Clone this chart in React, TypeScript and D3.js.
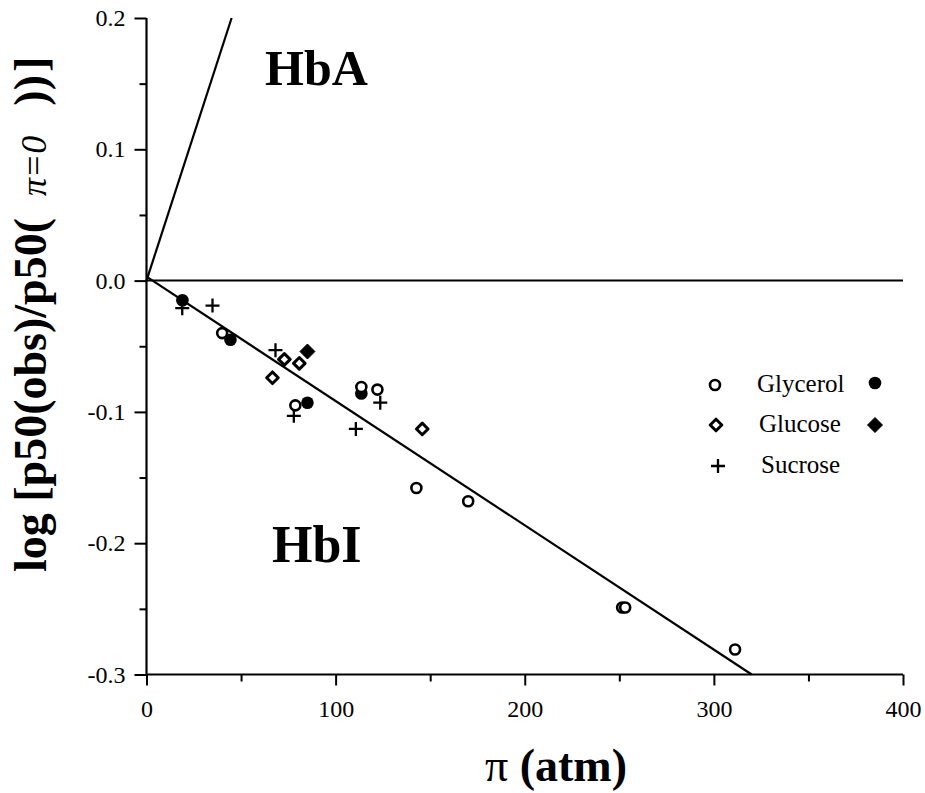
import React, { useEffect, useRef } from "react";
import * as d3 from "d3";

// Osmotic pressure (atm) vs log[p50(obs)/p50(π=0)]
const glycerolOpenX = [40.0, 78.7, 113.6, 122.1, 142.7, 170.1, 251.5, 253.1, 311.2];
const glycerolOpenY = [-0.040, -0.095, -0.081, -0.083, -0.158, -0.168, -0.249, -0.249, -0.281];
const glycerolFilledX = [19.0, 44.4, 85.1, 113.6];
const glycerolFilledY = [-0.015, -0.045, -0.093, -0.086];
const glucoseOpenX = [66.6, 72.9, 80.8, 145.8];
const glucoseOpenY = [-0.074, -0.060, -0.063, -0.113];
const glucoseFilledX = [85.1];
const glucoseFilledY = [-0.054];
const sucroseX = [18.9, 34.9, 68.2, 77.9, 110.7, 123.6];
const sucroseY = [-0.021, -0.019, -0.053, -0.103, -0.113, -0.093];

// Fitted lines: [x0, y0, x1, y1]
const hbaLine = [0, 0.0, 45, 0.2];
const hbiLine = [0, 0.003, 320, -0.3];

const xMajorTicks = [0, 100, 200, 300, 400];
const xMinorTicks = [50, 150, 250, 350];
const yMajorTicks = [0.2, 0.1, 0.0, -0.1, -0.2, -0.3];
const yMinorTicks = [0.15, 0.05, -0.05, -0.15, -0.25];

const legendItems = ["Glycerol", "Glucose", "Sucrose"];

const W = 925;
const H = 793;
const SERIF = "'Liberation Serif', 'Times New Roman', serif";

export default function App() {
  const ref = useRef<SVGSVGElement | null>(null);

  useEffect(() => {
    const svg = d3.select(ref.current);
    svg.selectAll("*").remove();

    const x = d3.scaleLinear().domain([0, 400]).range([146.5, 903]);
    const y = d3.scaleLinear().domain([-0.3, 0.2]).range([674.5, 18]);

    const g = svg.append("g");

    // axes (hyphen-minus tick labels)
    const fmtY = (d: any) => (d as number).toFixed(1).replace("\u2212", "-");
    const xAxisMajor = d3
      .axisBottom(x)
      .tickValues(xMajorTicks)
      .tickSize(11)
      .tickPadding(14)
      .tickFormat((d) => String(d));
    const xAxisMinor = d3.axisBottom(x).tickValues(xMinorTicks).tickSize(7).tickFormat(() => "");
    const yAxisMajor = d3
      .axisLeft(y)
      .tickValues(yMajorTicks)
      .tickSize(12)
      .tickPadding(9)
      .tickFormat(fmtY);
    const yAxisMinor = d3.axisLeft(y).tickValues(yMinorTicks).tickSize(7).tickFormat(() => "");

    const styleAxis = (sel: any) => {
      sel.attr("font-size", null).attr("font-family", null);
      sel.select(".domain").remove();
      sel.selectAll("line").attr("stroke", "#000").attr("stroke-width", 2);
      sel
        .selectAll("text")
        .attr("fill", "#000")
        .style("font-family", SERIF)
        .style("font-size", "24px");
    };

    g.append("g").attr("transform", `translate(0,${y(-0.3)})`).call(xAxisMajor).call(styleAxis);
    g.append("g").attr("transform", `translate(0,${y(-0.3)})`).call(xAxisMinor).call(styleAxis);
    g.append("g").attr("transform", `translate(${x(0)},0)`).call(yAxisMajor).call(styleAxis);
    g.append("g").attr("transform", `translate(${x(0)},0)`).call(yAxisMinor).call(styleAxis);

    // axis lines
    g.append("line")
      .attr("x1", x(0)).attr("x2", x(400))
      .attr("y1", y(-0.3)).attr("y2", y(-0.3))
      .attr("stroke", "#000").attr("stroke-width", 2.2);
    g.append("line")
      .attr("x1", x(0)).attr("x2", x(0))
      .attr("y1", y(0.2)).attr("y2", y(-0.3))
      .attr("stroke", "#000").attr("stroke-width", 2.2);

    // zero reference line
    g.append("line")
      .attr("x1", x(0)).attr("x2", x(400))
      .attr("y1", y(0)).attr("y2", y(0))
      .attr("stroke", "#000").attr("stroke-width", 2);

    // fitted lines
    const line = d3.line<[number, number]>().x((d) => x(d[0])).y((d) => y(d[1]));
    [hbaLine, hbiLine].forEach((l) => {
      g.append("path")
        .attr("d", line([[l[0], l[1]], [l[2], l[3]]]))
        .attr("stroke", "#000")
        .attr("stroke-width", 2.2)
        .attr("fill", "none");
    });

    // marker painters
    const openCircle = (sel: any, cx: number, cy: number) =>
      sel.append("circle").attr("cx", cx).attr("cy", cy).attr("r", 5)
        .attr("fill", "#fff").attr("stroke", "#000").attr("stroke-width", 2.6);
    const filledCircle = (sel: any, cx: number, cy: number) =>
      sel.append("circle").attr("cx", cx).attr("cy", cy).attr("r", 6.3).attr("fill", "#000");
    const diamondPath = (cx: number, cy: number, r: number) =>
      `M${cx},${cy - r}L${cx + r},${cy}L${cx},${cy + r}L${cx - r},${cy}Z`;
    const openDiamond = (sel: any, cx: number, cy: number) =>
      sel.append("path").attr("d", diamondPath(cx, cy, 5.8))
        .attr("fill", "#fff").attr("stroke", "#000").attr("stroke-width", 3)
        .attr("stroke-linejoin", "round");
    const filledDiamond = (sel: any, cx: number, cy: number) =>
      sel.append("path").attr("d", diamondPath(cx, cy, 7.5))
        .attr("fill", "#000").attr("stroke", "#000").attr("stroke-width", 1).attr("stroke-linejoin", "round");
    const plus = (sel: any, cx: number, cy: number) =>
      sel.append("path")
        .attr("d", `M${cx - 7},${cy}H${cx + 7}M${cx},${cy - 7}V${cy + 7}`)
        .attr("stroke", "#000").attr("stroke-width", 2.3);

    const pts = g.append("g");
    glucoseOpenX.forEach((v, i) => openDiamond(pts, x(v), y(glucoseOpenY[i])));
    glucoseFilledX.forEach((v, i) => filledDiamond(pts, x(v), y(glucoseFilledY[i])));
    sucroseX.forEach((v, i) => plus(pts, x(v), y(sucroseY[i])));
    glycerolFilledX.forEach((v, i) => filledCircle(pts, x(v), y(glycerolFilledY[i])));
    glycerolOpenX.forEach((v, i) => openCircle(pts, x(v), y(glycerolOpenY[i])));

    // legend
    const lg = g.append("g");
    const rowsY = [385, 425, 466];
    openCircle(lg, 715, rowsY[0]);
    filledCircle(lg, 875, rowsY[0] - 2);
    openDiamond(lg, 716, rowsY[1]);
    filledDiamond(lg, 875, rowsY[1]);
    plus(lg, 718, rowsY[2]);
    legendItems.forEach((name, i) => {
      lg.append("text")
        .attr("x", 757 + (i === 2 ? 4 : i === 1 ? 2 : 0))
        .attr("y", rowsY[i] + 7)
        .style("font-family", SERIF)
        .style("font-size", "25px")
        .attr("fill", "#000")
        .text(name);
    });

    // panel labels
    g.append("text").attr("x", 265).attr("y", 85)
      .style("font-family", SERIF).style("font-size", "50px").style("font-weight", "bold")
      .text("HbA");
    g.append("text").attr("x", 272).attr("y", 562)
      .style("font-family", SERIF).style("font-size", "52px").style("font-weight", "bold")
      .text("HbI");

    // x title
    const xt = g.append("text").attr("x", 556).attr("y", 781).attr("text-anchor", "middle")
      .style("font-family", SERIF).style("font-size", "46px");
    xt.append("tspan").text("π ");
    xt.append("tspan").style("font-weight", "bold").text("(atm)");

    // y title
    const yt = g.append("text")
      .attr("transform", `translate(46,572) rotate(-90)`)
      .attr("text-anchor", "start")
      .style("font-family", SERIF).style("font-size", "46px").style("font-weight", "bold");
    yt.append("tspan").text("log [p50(obs)/p50(");
    yt.append("tspan").attr("dx", 22).style("font-size", "36px").style("font-weight", "normal")
      .style("font-style", "italic").text("π=0");
    yt.append("tspan").attr("dx", 30).text("))");
    yt.append("tspan").attr("dx", 3).text("]");
  }, []);

  return (
    <svg
      ref={ref}
      width={W}
      height={H}
      style={{ position: "absolute", left: 0, top: 0, background: "#fff" }}
    />
  );
}
